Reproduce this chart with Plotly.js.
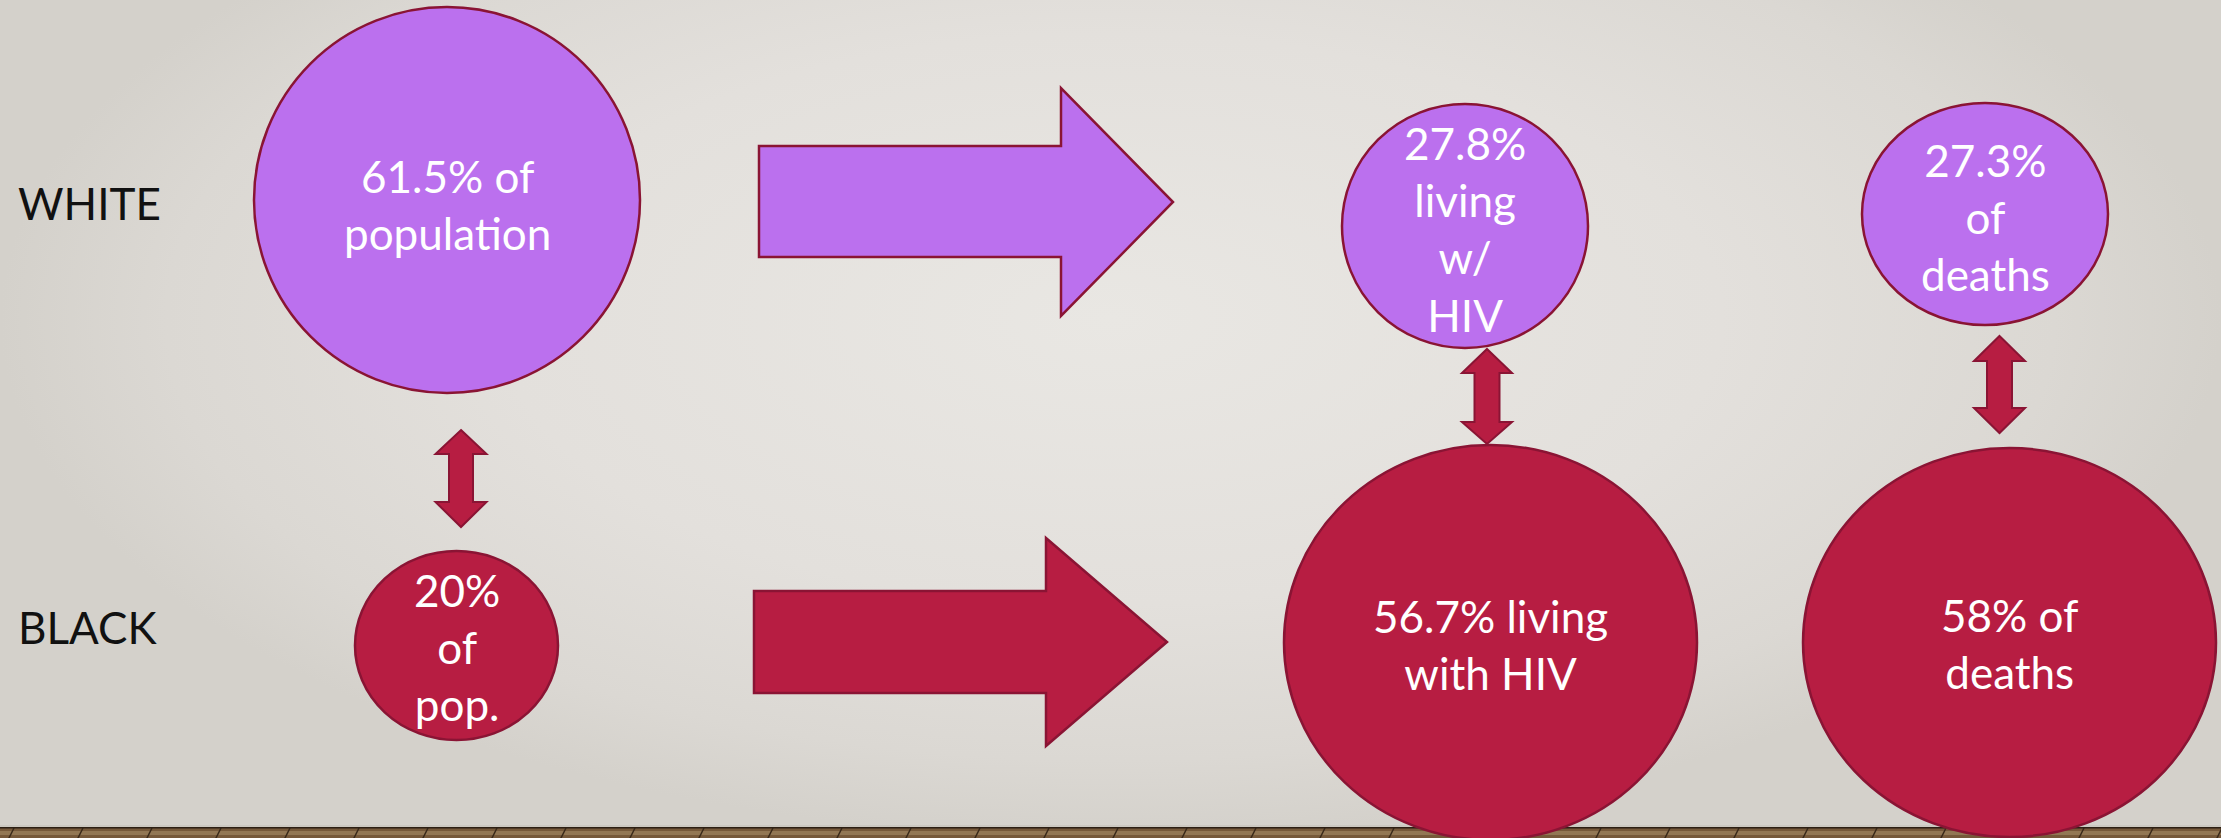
<!DOCTYPE html>
<html>
<head>
<meta charset="utf-8">
<script src="https://cdn.plot.ly/plotly-3.0.1.min.js"></script>
<style>
  html, body { margin: 0; padding: 0; background: #dedbd6; }
  #chart { width: 2221px; height: 838px; }
</style>
</head>
<body>
<div id="chart"></div>
<script>
// ---------------- DATA ----------------
const groups = ['WHITE', 'BLACK'];
const metrics = ['population', 'living with HIV', 'deaths'];
const whiteValues = [61.5, 27.8, 27.3];
const blackValues = [20, 56.7, 58];
const whiteLabelTemplates = ['{v}% of<br>population', '{v}%<br>living<br>w/<br>HIV', '{v}%<br>of<br>deaths'];
const blackLabelTemplates = ['{v}%<br>of<br>pop.', '{v}% living<br>with HIV', '{v}% of<br>deaths'];

// ---------------- LAYOUT (positions / styles) ----------------
const W = 2221, H = 838;
const PURPLE = '#bb70ee', RED = '#b71d42', EDGE = '#8a1434';
const FONT = 'Lato, "Open Sans", sans-serif';

// ellipse boxes for each group/metric [x0, x1, y0, y1]
const whiteBoxes = [[254, 640, 7, 393], [1342, 1588, 104, 348], [1862, 2108, 103, 325]];
const blackBoxes = [[355, 558, 551, 740], [1284, 1697, 445, 840], [1803, 2216, 448, 837]];
const textOffset = [[4, 3, 3], [1, 2, 1]];

// horizontal arrows (body x0, body y0, body y1, head x, head y0, head y1, tip x)
const hArrows = [
  {x0: 759, by0: 146, by1: 257, hx: 1061, hy0: 88, hy1: 316, tx: 1173, fill: PURPLE},
  {x0: 754, by0: 591, by1: 693, hx: 1046, hy0: 538, hy1: 746, tx: 1167, fill: RED}
];
// vertical double arrows
const vArrows = [
  {cx: 461, yt: 430, yh1: 454, yh2: 502, yb: 527, hw: 25.5, sw: 12},
  {cx: 1487, yt: 349, yh1: 373, yh2: 422, yb: 444, hw: 25, sw: 12.5},
  {cx: 1999.5, yt: 336, yh1: 361, yh2: 408, yb: 433, hw: 25.5, sw: 12.5}
];

const shapes = [];

// floor strip
shapes.push({type: 'rect', xref: 'x', yref: 'y', x0: 0, x1: W, y0: 827.5, y1: H + 2,
  fillcolor: '#76593a', line: {width: 0}, layer: 'above'});
shapes.push({type: 'rect', xref: 'x', yref: 'y', x0: 0, x1: W, y0: 831, y1: 835,
  fillcolor: 'rgba(200,175,135,0.35)', line: {width: 0}});
let seam = '';
for (let sx = 8; sx < W; sx += 69) { seam += `M${sx + 6},828 L${sx},${H + 2} `; }
shapes.push({type: 'path', xref: 'x', yref: 'y', path: seam, line: {color: '#3b2a1a', width: 1.5}});
shapes.push({type: 'line', xref: 'x', yref: 'y', x0: 0, x1: W, y0: 826, y1: 826, line: {color: '#c3bfb7', width: 1}});
shapes.push({type: 'line', xref: 'x', yref: 'y', x0: 0, x1: W, y0: 827.8, y1: 827.8, line: {color: '#2c1f14', width: 1.6}});

// horizontal arrows
hArrows.forEach(a => {
  const cy = (a.hy0 + a.hy1) / 2;
  shapes.push({type: 'path', xref: 'x', yref: 'y',
    path: `M${a.x0},${a.by0} L${a.hx},${a.by0} L${a.hx},${a.hy0} L${a.tx},${cy} L${a.hx},${a.hy1} L${a.hx},${a.by1} L${a.x0},${a.by1} Z`,
    fillcolor: a.fill, line: {color: EDGE, width: 2.5}});
});

// vertical double arrows
vArrows.forEach(a => {
  const c = a.cx;
  shapes.push({type: 'path', xref: 'x', yref: 'y',
    path: `M${c},${a.yt} L${c + a.hw},${a.yh1} L${c + a.sw},${a.yh1} L${c + a.sw},${a.yh2} L${c + a.hw},${a.yh2} L${c},${a.yb} L${c - a.hw},${a.yh2} L${c - a.sw},${a.yh2} L${c - a.sw},${a.yh1} L${c - a.hw},${a.yh1} Z`,
    fillcolor: RED, line: {color: EDGE, width: 2}});
});

// circles
const annotations = [];
function addCircle(box, fill, label, dy) {
  shapes.push({type: 'circle', xref: 'x', yref: 'y', x0: box[0], x1: box[1], y0: box[2], y1: box[3],
    fillcolor: fill, line: {color: EDGE, width: 2.5}});
  annotations.push({xref: 'x', yref: 'y', x: (box[0] + box[1]) / 2, y: (box[2] + box[3]) / 2 + dy,
    text: label, showarrow: false, xanchor: 'center', yanchor: 'middle', align: 'center',
    font: {family: FONT, size: 44, color: '#ffffff'}});
}
metrics.forEach((m, i) => {
  addCircle(whiteBoxes[i], PURPLE, whiteLabelTemplates[i].replace('{v}', whiteValues[i]), textOffset[0][i]);
  addCircle(blackBoxes[i], RED, blackLabelTemplates[i].replace('{v}', blackValues[i]), textOffset[1][i]);
});

// group labels
const groupY = [203, 627];
groups.forEach((g, i) => {
  annotations.push({xref: 'x', yref: 'y', x: 16, y: groupY[i], text: g, showarrow: false,
    xanchor: 'left', yanchor: 'middle', font: {family: FONT, size: 44, color: '#111111'}});
});

// background (radial gradient fill)
const bg = {
  type: 'scatter', mode: 'none', x: [0, W, W, 0, 0], y: [-200, -200, H, H, -200],
  fill: 'toself', fillcolor: '#e0ddd8',
  fillgradient: {type: 'radial', colorscale: [[0, '#e9e7e3'], [0.55, '#e3e0dc'], [0.85, '#dbd8d3'], [1, '#d4d1cb']]},
  hoverinfo: 'skip', showlegend: false
};

const layout = {
  width: W, height: H,
  margin: {l: 0, r: 0, t: 0, b: 0, pad: 0},
  paper_bgcolor: '#dedbd6', plot_bgcolor: '#dedbd6',
  xaxis: {range: [0, W], visible: false, fixedrange: true},
  yaxis: {range: [H, 0], visible: false, fixedrange: true},
  shapes: shapes, annotations: annotations, showlegend: false
};

Plotly.newPlot('chart', [bg], layout, {displayModeBar: false, staticPlot: true});
</script>
</body>
</html>
